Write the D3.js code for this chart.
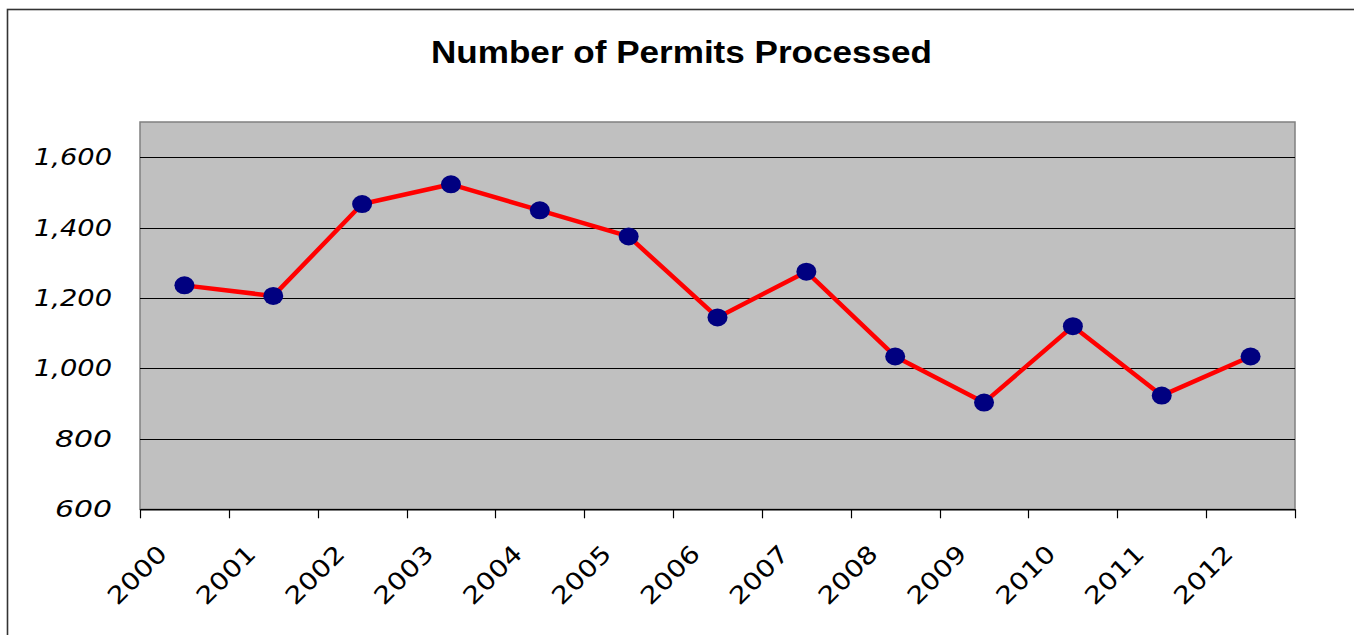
<!DOCTYPE html>
<html>
<head>
<meta charset="utf-8">
<script src="https://cdn.jsdelivr.net/npm/d3@7"></script>
<style>
html,body{margin:0;padding:0;background:#fff;}
svg{display:block;}
</style>
</head>
<body>
<svg id="chart" width="1354" height="635"></svg>
<script>
const categories = ["2000","2001","2002","2003","2004","2005","2006","2007","2008","2009","2010","2011","2012"];
const permits = [1236,1206,1467,1523,1449,1375,1145,1275,1034,903,1120,923,1034];
const yTicks = [600,800,1000,1200,1400,1600];
const title = "Number of Permits Processed";

(function(){
const svg = d3.select("#chart");
const pLeft = 140, pRight = 1295, pTop = 122, pBottom = 509.3;

// outer frame
svg.append("rect").attr("x",7.5).attr("y",9.5).attr("width",1400).attr("height",700)
  .attr("fill","none").attr("stroke","#333").attr("stroke-width",1.6);

const x = d3.scaleBand().domain(categories).range([pLeft,pRight]).padding(0);
const y = d3.scaleLinear().domain([600,1700]).range([pBottom, pTop]);

// plot background
svg.append("rect").attr("x",pLeft).attr("y",pTop).attr("width",pRight-pLeft).attr("height",pBottom-pTop)
  .attr("fill","#c0c0c0").attr("stroke","#808080").attr("stroke-width",1.5);

// gridlines
svg.append("g").selectAll("line").data(yTicks.filter(d=>d>600)).join("line")
  .attr("x1",pLeft).attr("x2",pRight)
  .attr("y1",d=>Math.round(y(d))+0.5).attr("y2",d=>Math.round(y(d))+0.5)
  .attr("stroke","#000").attr("stroke-width",1);

// x axis
const xAxis = d3.axisBottom(x).tickSize(0).tickFormat("");
const gx = svg.append("g").attr("transform",`translate(0,${pBottom})`).call(xAxis);
gx.select(".domain").attr("stroke","#000").attr("stroke-width",1.5);
// category boundary ticks
const bounds = categories.map(c=>x(c)).concat([pRight]);
svg.append("g").selectAll("line").data(bounds).join("line")
  .attr("x1",d=>Math.round(d)+0.5).attr("x2",d=>Math.round(d)+0.5)
  .attr("y1",pBottom).attr("y2",pBottom+9)
  .attr("stroke","#000").attr("stroke-width",1.2);

// x labels
svg.append("g").selectAll("text").data(categories).join("text")
  .attr("transform",d=>`translate(${x(d)+x.bandwidth()/2-16},${pBottom+46}) rotate(-45)`)
  .attr("text-anchor","end")
  .attr("font-family","DejaVu Sans")
  .attr("font-size",24)
  .attr("textLength",72).attr("lengthAdjust","spacingAndGlyphs")
  .attr("fill","#000")
  .text(d=>d);

// y labels
const fmt = d3.format(",");
svg.append("g").selectAll("text").data(yTicks).join("text")
  .attr("x",112).attr("y",d=>y(d)+8)
  .attr("text-anchor","end")
  .attr("font-family","DejaVu Sans")
  .attr("font-style","italic")
  .attr("font-size",23)
  .attr("textLength",d=>fmt(d).length===5?78:57)
  .attr("lengthAdjust","spacingAndGlyphs")
  .attr("fill","#000")
  .text(d=>fmt(d));

// line
const line = d3.line().x((d,i)=>x(categories[i])+x.bandwidth()/2).y(d=>y(d));
svg.append("path").datum(permits).attr("d",line)
  .attr("fill","none").attr("stroke","#ff0000").attr("stroke-width",4.5).attr("stroke-linejoin","round");

// markers
svg.append("g").selectAll("ellipse").data(permits).join("ellipse")
  .attr("cx",(d,i)=>x(categories[i])+x.bandwidth()/2).attr("cy",d=>y(d))
  .attr("rx",10).attr("ry",9).attr("fill","#000080");

// title
svg.append("text").attr("x",681.5).attr("y",63)
  .attr("text-anchor","middle")
  .attr("font-family","Liberation Sans, Arial, sans-serif")
  .attr("font-weight","bold").attr("font-size",31)
  .attr("textLength",501).attr("lengthAdjust","spacingAndGlyphs")
  .attr("fill","#000")
  .text(title);
})();
</script>
</body>
</html>
